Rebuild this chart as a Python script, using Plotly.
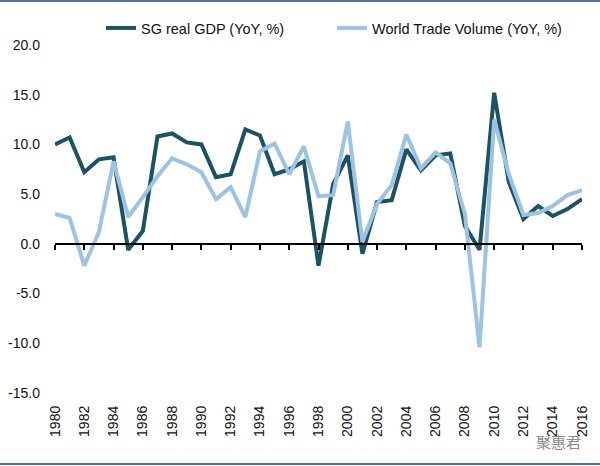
import plotly.graph_objects as go

# ---- data ----
years = list(range(1980, 2017))
sg_gdp = [10.0, 10.7, 7.2, 8.5, 8.7, -0.6, 1.3, 10.8, 11.1, 10.2,
          10.0, 6.7, 7.0, 11.5, 10.9, 7.0, 7.5, 8.3, -2.2, 6.0,
          8.9, -1.0, 4.2, 4.4, 9.5, 7.4, 8.9, 9.1, 1.8, -0.6,
          15.2, 6.2, 2.5, 3.8, 2.8, 3.5, 4.5]
world_trade = [3.0, 2.6, -2.2, 1.2, 8.3, 2.7, 4.7, 6.8, 8.6, 8.0,
               7.2, 4.5, 5.7, 2.7, 9.3, 10.1, 7.0, 9.8, 4.8, 4.9,
               12.3, 0.2, 4.0, 5.9, 11.0, 7.6, 9.2, 8.1, 3.0, -10.4,
               12.5, 7.0, 2.9, 3.1, 3.8, 4.9, 5.4]
series_names = ["SG real GDP (YoY, %)", "World Trade Volume (YoY, %)"]
x_ticks = list(range(1980, 2017, 2))
y_ticks = [-15, -10, -5, 0, 5, 10, 15, 20]
y_ticktext = ["-15.0", "-10.0", "-5.0", "0.0", "5.0", "10.0", "15.0", "20.0"]
watermark = "聚惠君"

DARK = "#1c5364"
LIGHT = "#9dc3e4"
FONT = "Liberation Sans, Arial, sans-serif"

W, H = 600, 466
ML, MR, MT, MB = 55, 18, 45, 73
plot_w = W - ML - MR
plot_h = H - MT - MB

fig = go.Figure()
fig.add_trace(go.Scatter(x=years, y=sg_gdp, mode="lines", name=series_names[0],
                         line=dict(color=DARK, width=4)))
fig.add_trace(go.Scatter(x=years, y=world_trade, mode="lines", name=series_names[1],
                         line=dict(color=LIGHT, width=4)))

ymin, ymax = y_ticks[0], y_ticks[-1]
zero_pos = (0 - ymin) / (ymax - ymin)

def px_to_paper_x(px):
    return (px - ML) / plot_w

def px_to_paper_y(py):
    return (H - MB - py) / plot_h

fig.update_layout(
    width=W, height=H,
    margin=dict(l=ML, r=MR, t=MT, b=MB, pad=0, autoexpand=False),
    paper_bgcolor="white", plot_bgcolor="white",
    font=dict(family=FONT, size=14, color="#111111"),
    showlegend=True,
    legend=dict(orientation="h", x=px_to_paper_x(101), xanchor="left",
                y=px_to_paper_y(28), yanchor="middle",
                font=dict(family=FONT, size=14.5, color="#111111"),
                bgcolor="rgba(0,0,0,0)", itemwidth=30,
                entrywidth=186, entrywidthmode="pixels",
                traceorder="normal"),
    xaxis=dict(range=[years[0], years[-1]], tickvals=x_ticks, tickangle=-90,
               showgrid=False, zeroline=False, showline=False, automargin=False,
               ticks="", ticklabelstandoff=9,
               tickfont=dict(family=FONT, size=14, color="#111111")),
    xaxis2=dict(range=[years[0], years[-1]], overlaying="x", anchor="free",
                position=zero_pos, side="bottom", tickvals=x_ticks, automargin=False,
                showticklabels=False, showgrid=False, zeroline=False,
                showline=True, linecolor="black", linewidth=2,
                ticks="outside", ticklen=5, tickwidth=2, tickcolor="black"),
    yaxis=dict(range=[ymin, ymax], tickvals=y_ticks, ticktext=y_ticktext,
               showgrid=False, zeroline=False, showline=False, automargin=False,
               ticks="", ticklabelstandoff=14,
               tickfont=dict(family=FONT, size=14, color="#111111"),
               domain=[0, 1]),
    shapes=[
        dict(type="line", xref="paper", yref="paper",
             x0=px_to_paper_x(0), x1=px_to_paper_x(W),
             y0=px_to_paper_y(1), y1=px_to_paper_y(1),
             line=dict(color="#4f73a0", width=2)),
        dict(type="line", xref="paper", yref="paper",
             x0=px_to_paper_x(0), x1=px_to_paper_x(W),
             y0=px_to_paper_y(464), y1=px_to_paper_y(464),
             line=dict(color="#4f73a0", width=2)),
    ],
    annotations=[
        dict(text=watermark, xref="paper", yref="paper",
             x=px_to_paper_x(558), y=px_to_paper_y(441),
             xanchor="center", yanchor="middle", showarrow=False,
             font=dict(family="Noto Sans CJK SC", size=15, color="#8a8a8a")),
    ],
)

# invisible trace to activate the zero-line axis
fig.add_trace(go.Scatter(x=[years[0]], y=[0], xaxis="x2", mode="markers",
                         marker=dict(opacity=0), showlegend=False, hoverinfo="skip"))

fig.write_html("out.html", config={"displayModeBar": False, "staticPlot": True},
               post_script="document.body.style.margin='0';document.body.style.overflow='hidden';")
